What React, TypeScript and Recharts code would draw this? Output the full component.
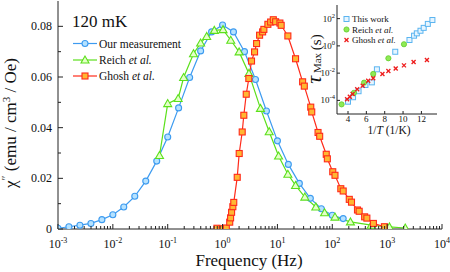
import React from 'react';
import { LineChart, Line, XAxis, YAxis, ScatterChart, Scatter } from 'recharts';

const FONT = 'Liberation Serif, Times New Roman, serif';
const serif = { fontFamily: FONT };
const AXIS = '#222';

const BLUE = '#3d9bf0';
const BLUE_FILL = '#b5e2ff';
const GREEN = '#5be01b';
const GREEN_FILL = '#e4ffc8';
const RED = '#ff2a1a';
const RED_FILL = '#ffb732';

// main panel: frequency (Hz) vs chi'' (emu/cm3/Oe)
const ourFreq = [
  0.001, 0.00158, 0.00251, 0.00398, 0.00631, 0.01, 0.0158, 0.0251, 0.0398, 0.0631,
  0.1, 0.158, 0.251, 0.398, 0.631, 1, 1.58, 2.51, 3.98, 6.31,
  10, 15.8, 25.1, 39.8, 63.1, 100, 158,
];
const ourChi = [
  0.0003, 0.0009, 0.0015, 0.0022, 0.0037, 0.0056, 0.0087, 0.0129, 0.0189, 0.0268,
  0.0363, 0.0478, 0.0598, 0.0703, 0.0778, 0.0805, 0.0778, 0.07, 0.059, 0.0466,
  0.0348, 0.0255, 0.018, 0.0121, 0.008, 0.0054, 0.0041,
];

const reichFreq = [
  0.0708, 0.1, 0.155, 0.195, 0.295, 0.398, 0.513, 0.708, 1.02, 1.41,
  2.0, 3.02, 4.9, 7.08, 10.5, 15.5, 21.4, 31.6, 50.1, 72.4,
  112, 214, 513, 1100, 2140,
];
const reichChi = [
  0.029, 0.0495, 0.0515, 0.0598, 0.0692, 0.0734, 0.076, 0.0784, 0.0787, 0.0745,
  0.0699, 0.0614, 0.0476, 0.0384, 0.0288, 0.0216, 0.0172, 0.0126, 0.0087, 0.0064,
  0.0047, 0.0028, 0.0015, 0.0008, 0.0004,
];

const ghoshFreq = [
  0.79, 0.98, 1.17, 1.35, 1.4, 1.46, 1.54, 1.6, 1.85, 2.01,
  2.28, 2.44, 2.7, 3.01, 3.37, 3.83, 4.17, 4.73, 5.37, 5.66,
  6.7, 7.52, 8.41, 9.27, 11.1, 11.7, 15.5, 21.4, 28.8, 30.9,
  40.5, 42.2, 55, 58.9, 77.6, 81.3, 102, 112, 143, 158,
  204, 224, 288, 309, 389, 427, 562, 891,
];
const ghoshChi = [
  0.0003, 0.0001, 0.0004, 0.0027, 0.0044, 0.0066, 0.0088, 0.0105, 0.0204, 0.0298,
  0.0383, 0.0449, 0.0532, 0.0594, 0.0663, 0.0699, 0.0732, 0.0765, 0.0778, 0.0788,
  0.0808, 0.0817, 0.0826, 0.0818, 0.0813, 0.0804, 0.0762, 0.0672, 0.0581, 0.0564,
  0.0481, 0.0462, 0.0381, 0.0366, 0.0295, 0.0277, 0.0226, 0.0212, 0.0159, 0.015,
  0.0117, 0.0106, 0.0075, 0.007, 0.0048, 0.0043, 0.0022, 0.0009,
];

const xDecades = [0.001, 0.01, 0.1, 1, 10, 100, 1000, 10000];
const xDecadeLabels = ['-3', '-2', '-1', '0', '1', '2', '3', '4'];
const xMinorSteps = [2, 3, 4, 5, 6, 7, 8, 9];
const yMajor = [0, 0.02, 0.04, 0.06, 0.08];
const yMajorLabels = ['0', '0.02', '0.04', '0.06', '0.08'];
const yMinor = [0.01, 0.03, 0.05, 0.07];

// inset: tau_max (s) vs 1/T (1/K)
const workInvT = [4.0, 4.55, 5.15, 5.9, 6.6, 7.15, 9.15, 10.7, 11.2, 11.5, 11.9, 12.25, 12.7, 13.2];
const workTau = [8e-5, 1.7e-4, 4.7e-4, 1.35e-3, 2.1e-3, 1.9e-2, 0.37, 2.7, 5.6, 8.3, 12.9, 21, 41, 79];
const reichInvT = [3.3, 4.65, 5.75, 6.75, 8.4, 10.1];
const reichTau = [5.1e-5, 3.6e-4, 2.0e-3, 8.7e-3, 0.123, 1.32];
const ghoshInvT = [3.9, 4.2, 4.5, 5.0, 5.6, 6.2, 6.75, 7.75, 8.4, 9.2, 10.1, 11.15, 12.6];
const ghoshTau = [1.2e-4, 1.86e-4, 2.95e-4, 6.5e-4, 1.2e-3, 2.75e-3, 4.2e-3, 8.7e-3, 1.45e-2, 2.2e-2, 3.7e-2, 6.6e-2, 9.1e-2];

const insetXTicks = [4, 6, 8, 10, 12];
const insetYTicks = [1e-4, 1e-2, 1, 100];
const insetYLabels = ['-4', '-2', '0', '2'];

const ourData = ourFreq.map((f, i) => ({ f, chi: ourChi[i] }));
const reichData = reichFreq.map((f, i) => ({ f, chi: reichChi[i] }));
const ghoshData = ghoshFreq.map((f, i) => ({ f, chi: ghoshChi[i] }));
const workPts = workInvT.map((x, i) => ({ x, tau: workTau[i] }));
const reichPts = reichInvT.map((x, i) => ({ x, tau: reichTau[i] }));
const ghoshPts = ghoshInvT.map((x, i) => ({ x, tau: ghoshTau[i] }));

const xTicks = [
  ...xDecades,
  ...xDecades.slice(0, -1).flatMap((d) => xMinorSteps.map((k) => k * d)),
].sort((a, b) => a - b);
const yTicks = [...yMajor, ...yMinor].sort((a, b) => a - b);

const decadeIndex = (v: number) => xDecades.findIndex((d) => Math.abs(d - v) / d < 1e-6);

const BottomFreqTick = ({ x, y, payload }: any) => {
  const i = decadeIndex(payload.value);
  const major = i >= 0;
  return (
    <g>
      <line x1={x} x2={x} y1={y} y2={y - (major ? 5 : 3)} stroke={AXIS} />
      {major && (
        <text x={x} y={y + 19} textAnchor="middle" style={serif} fontSize={12} fill="#111">
          10
          <tspan dy={-5} fontSize={8}>
            {xDecadeLabels[i]}
          </tspan>
        </text>
      )}
    </g>
  );
};

const TopFreqTick = ({ x, y, payload }: any) => {
  const major = decadeIndex(payload.value) >= 0;
  return <line x1={x} x2={x} y1={y} y2={y + (major ? 5 : 3)} stroke={AXIS} />;
};

const LeftChiTick = ({ x, y, payload }: any) => {
  const i = yMajor.indexOf(payload.value);
  const major = i >= 0;
  return (
    <g>
      <line x1={x} x2={x + (major ? 5 : 3)} y1={y} y2={y} stroke={AXIS} />
      {major && (
        <text x={x - 6} y={y + 4} textAnchor="end" style={serif} fontSize={12} fill="#111">
          {yMajorLabels[i]}
        </text>
      )}
    </g>
  );
};

const RightChiTick = ({ x, y, payload }: any) => {
  const major = yMajor.indexOf(payload.value) >= 0;
  return <line x1={x} x2={x - (major ? 5 : 3)} y1={y} y2={y} stroke={AXIS} />;
};

const CircleDot = (p: any) => (
  <circle key={`c${p.index}`} cx={p.cx} cy={p.cy} r={3} fill={BLUE_FILL} stroke={BLUE} strokeWidth={1.1} />
);
const TriangleDot = (p: any) => (
  <polygon
    key={`t${p.index}`}
    points={`${p.cx},${p.cy - 4} ${p.cx - 4},${p.cy + 3} ${p.cx + 4},${p.cy + 3}`}
    fill={GREEN_FILL}
    stroke={GREEN}
    strokeWidth={1.1}
  />
);
const SquareDot = (p: any) => (
  <rect key={`s${p.index}`} x={p.cx - 3} y={p.cy - 3} width={6} height={6} fill={RED_FILL} stroke={RED} strokeWidth={1.1} />
);

// inset ticks
const InsetBottomTick = ({ x, y, payload }: any) => (
  <g>
    <line x1={x} x2={x} y1={y} y2={y - 3} stroke={AXIS} />
    <text x={x} y={y + 8} textAnchor="middle" style={serif} fontSize={9} fill="#111">
      {payload.value}
    </text>
  </g>
);
const InsetTopTick = ({ x, y }: any) => <line x1={x} x2={x} y1={y} y2={y + 3} stroke={AXIS} />;
const InsetLeftTick = ({ x, y, payload }: any) => {
  const i = insetYTicks.indexOf(payload.value);
  return (
    <g>
      <line x1={x} x2={x + 3} y1={y} y2={y} stroke={AXIS} />
      <text x={x - 2} y={y + 3} textAnchor="end" style={serif} fontSize={9} fill="#111">
        10
        <tspan dy={-4} fontSize={6.5}>
          {insetYLabels[i]}
        </tspan>
      </text>
    </g>
  );
};
const InsetRightTick = ({ x, y }: any) => <line x1={x} x2={x - 3} y1={y} y2={y} stroke={AXIS} />;

const WorkShape = (p: any) => (
  <rect x={p.cx - 2.5} y={p.cy - 2.5} width={5} height={5} fill="#e6f5ff" stroke="#5ab4f0" strokeWidth={1} />
);
const ReichShape = (p: any) => (
  <circle cx={p.cx} cy={p.cy} r={2.6} fill="#8fea55" stroke="#5fcc2a" strokeWidth={0.8} />
);
const GhoshShape = (p: any) => (
  <g stroke="#ee1c1c" strokeWidth={1.3}>
    <line x1={p.cx - 2} y1={p.cy - 2} x2={p.cx + 2} y2={p.cy + 2} />
    <line x1={p.cx - 2} y1={p.cy + 2} x2={p.cx + 2} y2={p.cy - 2} />
  </g>
);

const legendRows = [
  { y: 43.5, color: BLUE, label: 'Our measurement', italic: '' },
  { y: 60, color: GREEN, label: 'Reich ', italic: 'et al.' },
  { y: 76, color: RED, label: 'Ghosh ', italic: 'et al.' },
];

const App = () => {
  return (
    <div style={{ position: 'absolute', left: 0, top: 0, width: 450, height: 272, background: '#fff' }}>
      <LineChart width={450} height={272} margin={{ top: 1, right: 8, bottom: 0, left: 0 }}>
        <XAxis
          xAxisId="b"
          type="number"
          dataKey="f"
          scale="log"
          domain={[0.001, 10000]}
          allowDataOverflow
          ticks={xTicks}
          interval={0}
          tick={<BottomFreqTick />}
          tickSize={0}
          tickMargin={0}
          height={43}
          axisLine={{ stroke: AXIS }}
        />
        <XAxis
          xAxisId="t"
          orientation="top"
          type="number"
          dataKey="f"
          scale="log"
          domain={[0.001, 10000]}
          allowDataOverflow
          ticks={xTicks}
          interval={0}
          tick={<TopFreqTick />}
          tickSize={0}
          tickMargin={0}
          height={0}
          axisLine={{ stroke: AXIS }}
        />
        <YAxis
          yAxisId="l"
          type="number"
          domain={[0, 0.09]}
          allowDataOverflow
          ticks={yTicks}
          interval={0}
          tick={<LeftChiTick />}
          tickSize={0}
          tickMargin={0}
          width={58}
          axisLine={{ stroke: AXIS }}
        />
        <YAxis
          yAxisId="r"
          orientation="right"
          type="number"
          domain={[0, 0.09]}
          allowDataOverflow
          ticks={yTicks}
          interval={0}
          tick={<RightChiTick />}
          tickSize={0}
          tickMargin={0}
          width={0}
          axisLine={{ stroke: AXIS }}
        />
        <Line xAxisId="b" yAxisId="l" data={ourData} dataKey="chi" stroke={BLUE} strokeWidth={1.2} dot={CircleDot} isAnimationActive={false} />
        <Line xAxisId="b" yAxisId="l" data={reichData} dataKey="chi" stroke={GREEN} strokeWidth={1.2} dot={TriangleDot} isAnimationActive={false} />
        <Line xAxisId="b" yAxisId="l" data={ghoshData} dataKey="chi" stroke={RED} strokeWidth={1.2} dot={SquareDot} isAnimationActive={false} />
      </LineChart>

      <div style={{ position: 'absolute', left: 300, top: 0 }}>
        <ScatterChart width={150} height={140} margin={{ top: 5, right: 13, bottom: 0, left: 0 }}>
          <XAxis
            xAxisId="b"
            type="number"
            dataKey="x"
            domain={[2.8, 13.7]}
            allowDataOverflow
            ticks={insetXTicks}
            interval={0}
            tick={<InsetBottomTick />}
            tickSize={0}
            tickMargin={0}
            height={26}
            axisLine={{ stroke: AXIS }}
          />
          <XAxis
            xAxisId="t"
            orientation="top"
            type="number"
            dataKey="x"
            domain={[2.8, 13.7]}
            allowDataOverflow
            ticks={insetXTicks}
            interval={0}
            tick={<InsetTopTick />}
            tickSize={0}
            tickMargin={0}
            height={0}
            axisLine={{ stroke: AXIS }}
          />
          <YAxis
            yAxisId="l"
            type="number"
            dataKey="tau"
            scale="log"
            domain={[1e-5, 1000]}
            allowDataOverflow
            ticks={insetYTicks}
            interval={0}
            tick={<InsetLeftTick />}
            tickSize={0}
            tickMargin={0}
            width={37}
            axisLine={{ stroke: AXIS }}
          />
          <YAxis
            yAxisId="r"
            orientation="right"
            type="number"
            dataKey="tau"
            scale="log"
            domain={[1e-5, 1000]}
            allowDataOverflow
            ticks={insetYTicks}
            interval={0}
            tick={<InsetRightTick />}
            tickSize={0}
            tickMargin={0}
            width={0}
            axisLine={{ stroke: AXIS }}
          />
          <Scatter xAxisId="b" yAxisId="l" data={workPts} shape={WorkShape} isAnimationActive={false} />
          <Scatter xAxisId="b" yAxisId="l" data={reichPts} shape={ReichShape} isAnimationActive={false} />
          <Scatter xAxisId="b" yAxisId="l" data={ghoshPts} shape={GhoshShape} isAnimationActive={false} />
        </ScatterChart>
      </div>

      <svg width={450} height={272} style={{ position: 'absolute', left: 0, top: 0, pointerEvents: 'none' }}>
        <g style={serif} fill="#111">
          <text x={72} y={27} fontSize={17}>120 mK</text>

          {legendRows.map((r, i) => (
            <g key={r.label}>
              <line x1={73} x2={97} y1={r.y} y2={r.y} stroke={r.color} strokeWidth={1.2} />
              {i === 0 && CircleDot({ cx: 85, cy: r.y, index: 'lg' })}
              {i === 1 && TriangleDot({ cx: 85, cy: r.y, index: 'lg' })}
              {i === 2 && SquareDot({ cx: 85, cy: r.y, index: 'lg' })}
              <text x={99} y={r.y + 4} fontSize={11.5}>
                {r.label}
                {r.italic && <tspan fontStyle="italic">{r.italic}</tspan>}
              </text>
            </g>
          ))}

          <text x={249} y={266} fontSize={17} textAnchor="middle">Frequency (Hz)</text>
          <text x={16} y={123} fontSize={17} textAnchor="middle" transform="rotate(-90 16 123)">
            χ<tspan dy={-6} fontSize={12}>″</tspan>
            <tspan dy={6}> (emu / cm</tspan>
            <tspan dy={-6} fontSize={11}>3</tspan>
            <tspan dy={6}> / Oe)</tspan>
          </text>

          {/* inset labels */}
          <text x={389} y={134} fontSize={11.5} textAnchor="middle">
            1/<tspan fontStyle="italic">T</tspan> (1/K)
          </text>
          <text x={321} y={59} textAnchor="middle" transform="rotate(-90 321 59)">
            <tspan fontSize={22} fontStyle="italic">τ</tspan>
            <tspan fontSize={11}> Max </tspan>
            <tspan fontSize={15}>(s)</tspan>
          </text>

          {WorkShape({ cx: 346.5, cy: 19 })}
          <text x={352} y={22} fontSize={9}>This work</text>
          {ReichShape({ cx: 346.5, cy: 29.5 })}
          <text x={352} y={32.5} fontSize={9}>
            Reich <tspan fontStyle="italic">et al.</tspan>
          </text>
          {GhoshShape({ cx: 346.5, cy: 40 })}
          <text x={352} y={43} fontSize={9}>
            Ghosh <tspan fontStyle="italic">et al.</tspan>
          </text>
        </g>
      </svg>
    </div>
  );
};

export default App;
